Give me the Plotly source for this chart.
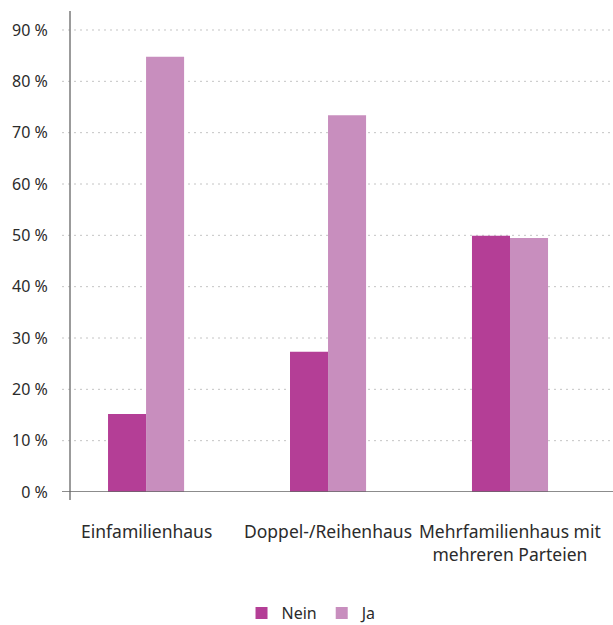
import plotly.graph_objects as go

# Wohnform categories and share of answers per group (percent)
categories = ["Einfamilienhaus", "Doppel-/Reihenhaus", "Mehrfamilienhaus mit<br>mehreren Parteien"]
nein_values = [15.2, 27.3, 49.9]
ja_values = [84.8, 73.4, 49.5]
y_ticks = [0, 10, 20, 30, 40, 50, 60, 70, 80, 90]
y_tick_labels = ["0 %", "10 %", "20 %", "30 %", "40 %", "50 %", "60 %", "70 %", "80 %", "90 %"]

FONT = "Noto Sans"
TEXT = "#2b2b2b"
NEIN_COLOR = "#b43e96"
JA_COLOR = "#c88ebe"

x_pos = list(range(len(categories)))

fig = go.Figure()
fig.add_trace(go.Bar(name="Nein", x=x_pos, y=nein_values, marker_color=NEIN_COLOR,
                     marker_line_width=0))
fig.add_trace(go.Bar(name="Ja", x=x_pos, y=ja_values, marker_color=JA_COLOR,
                     marker_line_width=0))

W, H = 613, 625
ML, MR, MT, MB = 70, 0, 11, 133
plot_w = W - ML - MR
plot_h = H - MT - MB
ext_x = 8 / plot_w
ext_y = 8 / plot_h

shapes = []
# dotted horizontal gridlines, reaching slightly left of the value axis
for t in y_ticks[1:]:
    shapes.append(dict(type="line", xref="paper", yref="y", x0=-ext_x, x1=1, y0=t, y1=t,
                       line=dict(color="#c4c4c4", width=1, dash="2px,4px"), layer="below"))
# axis lines crossing at the origin
shapes.append(dict(type="line", xref="paper", yref="paper", x0=0, x1=0, y0=-ext_y, y1=1,
                   line=dict(color="#7a7a7a", width=1.5)))
shapes.append(dict(type="line", xref="paper", yref="y", x0=-ext_x, x1=1, y0=0, y1=0,
                   line=dict(color="#666666", width=1.5)))

annotations = []
for i, c in enumerate(categories):
    annotations.append(dict(x=i, y=0, xref="x", yref="y", text=c, showarrow=False,
                            xanchor="center", yanchor="top", yshift=-25,
                            align="center", font=dict(family=FONT, size=17.5, color=TEXT)))

fig.update_layout(
    width=W, height=H,
    margin=dict(l=ML, r=MR, t=MT, b=MB, pad=0),
    paper_bgcolor="white", plot_bgcolor="white",
    barmode="group", bargap=0.582, bargroupgap=0,
    font=dict(family=FONT, size=16, color=TEXT),
    xaxis=dict(range=[-0.418, 2.566], showticklabels=False, showgrid=False,
               zeroline=False, showline=False, ticks=""),
    yaxis=dict(range=[0, 93.7], tickmode="array", tickvals=y_ticks, ticktext=y_tick_labels,
               showgrid=False, zeroline=False, showline=False, ticks="outside", ticklen=8,
               tickcolor="rgba(0,0,0,0)", ticklabelstandoff=10,
               tickfont=dict(family=FONT, size=16, color=TEXT)),
    shapes=shapes,
    annotations=annotations,
    legend=dict(orientation="h", xref="container", yref="container",
                x=0.394, y=0.019, xanchor="left", yanchor="middle",
                font=dict(family=FONT, size=16, color=TEXT), itemwidth=30,
                traceorder="normal"),
    showlegend=True,
)

fig.write_html("out.html")
